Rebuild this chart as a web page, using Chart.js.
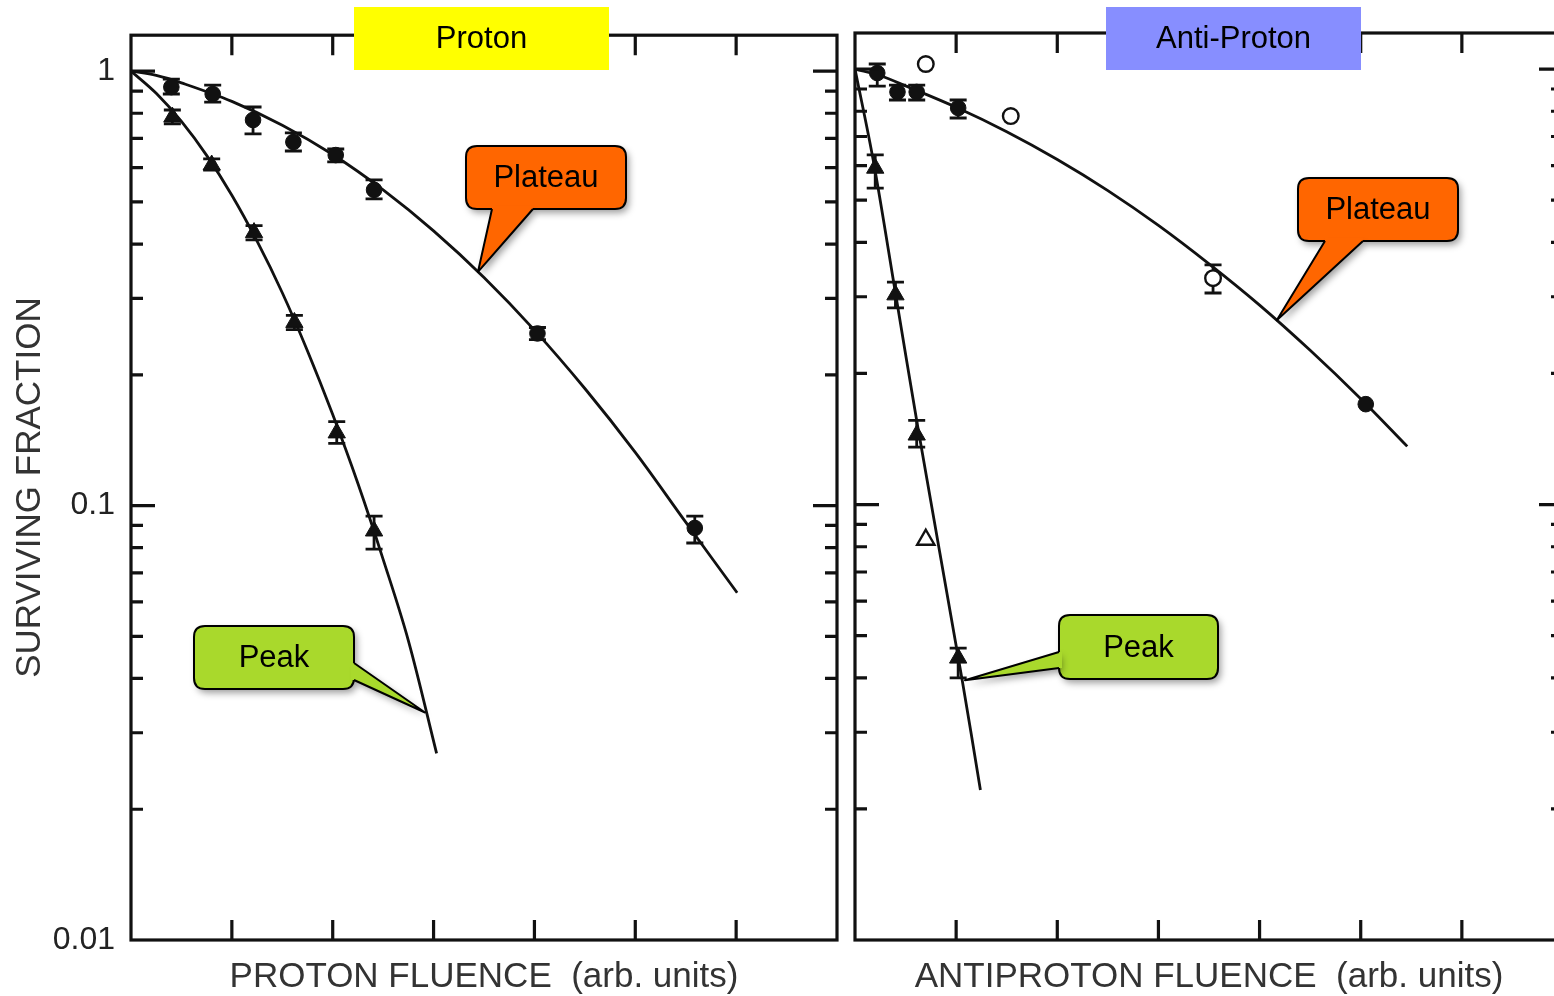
<!DOCTYPE html>
<html><head><meta charset="utf-8">
<script src="https://cdn.jsdelivr.net/npm/chart.js@4/dist/chart.umd.min.js"></script>
<style>
html{margin:0;padding:0;overflow:hidden;background:#fff;}
body{margin:0;padding:0;background:#fff;width:1600px;height:996px;position:relative;overflow:hidden;}
#w1{position:absolute;left:0;top:0;width:846px;height:996px;}
#w2{position:absolute;left:846px;top:0;width:720px;height:996px;}
</style></head><body>
<div id="w1"><canvas id="c1"></canvas></div>
<div id="w2"><canvas id="c2"></canvas></div>
<script>
// ---------- tick values ----------
const yTickLabels = [1, 0.1, 0.01];
const yMinorTicks = [0.02,0.03,0.04,0.05,0.06,0.07,0.08,0.09,0.2,0.3,0.4,0.5,0.6,0.7,0.8,0.9];
const xTicks = [1,2,3,4,5,6];

// ---------- Proton panel ----------
const protonPlateauX  = [0.40,0.81,1.21,1.61,2.03,2.41,4.03,5.59];
const protonPlateauY  = [0.919,0.886,0.772,0.687,0.641,0.533,0.249,0.0888];
const protonPlateauLo = [0.886,0.849,0.717,0.655,0.618,0.508,0.241,0.082];
const protonPlateauHi = [0.959,0.929,0.827,0.721,0.662,0.562,0.257,0.0946];

const protonPeakX  = [0.41,0.80,1.22,1.62,2.04,2.41];
const protonPeakY  = [0.784,0.608,0.425,0.264,0.147,0.0874];
const protonPeakLo = [0.756,0.592,0.409,0.254,0.139,0.0794];
const protonPeakHi = [0.814,0.628,0.441,0.274,0.156,0.0946];

const protonPlateauFitX = [0,0.25,0.5,1,1.5,2,2.5,3,3.5,4,4.5,5,5.5,6.01];
const protonPlateauFitY = [1,0.978,0.94,0.852,0.751,0.643,0.533,0.429,0.335,0.2535,0.186,0.1326,0.0916,0.063];
const protonPeakFitX = [0,0.25,0.5,0.75,1,1.25,1.5,1.75,2,2.25,2.5,2.75,3.03];
const protonPeakFitY = [1,0.889,0.766,0.640,0.518,0.406,0.309,0.227,0.162,0.1124,0.0752,0.0489,0.0269];

// ---------- Antiproton panel ----------
const antiPlateauX  = [0.22,0.42,0.61,1.02,5.05];
const antiPlateauY  = [0.979,0.886,0.886,0.814,0.170];
const antiPlateauLo = [0.914,0.849,0.849,0.772,null];
const antiPlateauHi = [1.027,0.919,0.919,0.849,null];

const antiPlateauOpenX  = [0.70,1.54,3.54];
const antiPlateauOpenY  = [1.027,0.780,0.331];
const antiPlateauOpenLo = [null,null,0.306];
const antiPlateauOpenHi = [null,null,0.355];

const antiPeakX  = [0.20,0.40,0.61,1.02];
const antiPeakY  = [0.592,0.303,0.1444,0.0444];
const antiPeakLo = [0.533,0.283,0.1355,0.040];
const antiPeakHi = [0.635,0.324,0.156,0.0468];

const antiPeakOpenX = [0.70];
const antiPeakOpenY = [0.083];

const antiPlateauFitX = [0,0.25,0.5,1,1.5,2,2.5,3,3.5,4,4.5,5,5.46];
const antiPlateauFitY = [1,0.965,0.915,0.817,0.718,0.620,0.526,0.4375,0.357,0.287,0.226,0.175,0.136];
const antiPeakFitX = [0,0.18,0.40,0.62,1.06,1.24];
const antiPeakFitY = [1,0.618,0.306,0.151,0.0395,0.0221];

// ---------- helpers ----------
const FONT = "'Liberation Sans', Arial, Helvetica, sans-serif";
const INK = '#111';
const pts = (xs, ys) => xs.map((x,i)=>({x, y: ys[i]}));

function fitDs(xs, ys){
  return {data: pts(xs,ys), showLine:true, borderColor:INK, borderWidth:2.8,
    pointRadius:0, fill:false, tension:0.35, order:2};
}
function markDs(xs, ys, style, open, lo, hi){
  return {data: pts(xs,ys), showLine:false, pointStyle:style,
    pointRadius: style==='triangle' ? 10 : 7.8,
    backgroundColor: open ? '#fff' : INK, borderColor: INK, borderWidth: open ? 2.4 : 1,
    errLo: lo, errHi: hi, order:1};
}

function roundRect(ctx,x,y,w,h,r){
  ctx.moveTo(x+r,y); ctx.lineTo(x+w-r,y); ctx.quadraticCurveTo(x+w,y,x+w,y+r);
  ctx.lineTo(x+w,y+h-r); ctx.quadraticCurveTo(x+w,y+h,x+w-r,y+h);
  ctx.lineTo(x+r,y+h); ctx.quadraticCurveTo(x,y+h,x,y+h-r);
  ctx.lineTo(x,y+r); ctx.quadraticCurveTo(x,y,x+r,y); ctx.closePath();
}

function drawCallout(ctx, c, tip, offX){
  const x=c.box[0]-offX, y=c.box[1], w=c.box[2], h=c.box[3], r=11;
  let b1,b2,inv;
  if(c.side==='bottom'){ b1=[c.base[0]-offX,y+h]; b2=[c.base[1]-offX,y+h]; inv=[0,-3]; }
  else if(c.side==='right'){ b1=[x+w,c.base[0]]; b2=[x+w,c.base[1]]; inv=[-3,0]; }
  else { b1=[x,c.base[0]]; b2=[x,c.base[1]]; inv=[3,0]; }
  ctx.save();
  ctx.shadowColor='rgba(0,0,0,0.38)'; ctx.shadowBlur=7; ctx.shadowOffsetX=3; ctx.shadowOffsetY=4;
  ctx.fillStyle=c.color;
  ctx.beginPath(); roundRect(ctx,x,y,w,h,r); ctx.fill();
  ctx.beginPath(); ctx.moveTo(b1[0],b1[1]); ctx.lineTo(tip[0],tip[1]); ctx.lineTo(b2[0],b2[1]); ctx.closePath(); ctx.fill();
  ctx.restore();
  ctx.save();
  ctx.lineWidth=2; ctx.strokeStyle='#000'; ctx.lineJoin='round';
  ctx.beginPath(); roundRect(ctx,x,y,w,h,r); ctx.stroke();
  ctx.fillStyle=c.color;
  ctx.beginPath();
  ctx.moveTo(b1[0]+inv[0],b1[1]+inv[1]); ctx.lineTo(b1[0],b1[1]); ctx.lineTo(tip[0],tip[1]);
  ctx.lineTo(b2[0],b2[1]); ctx.lineTo(b2[0]+inv[0],b2[1]+inv[1]); ctx.closePath(); ctx.fill();
  ctx.beginPath(); ctx.moveTo(b1[0],b1[1]); ctx.lineTo(tip[0],tip[1]); ctx.lineTo(b2[0],b2[1]); ctx.stroke();
  ctx.fillStyle='#000'; ctx.font='31px '+FONT; ctx.textAlign='center'; ctx.textBaseline='middle';
  ctx.fillText(c.text, x+w/2, y+h/2+1);
  ctx.restore();
}

function decoPlugin(opts){
  return {
    id:'deco',
    beforeDatasetsDraw(chart){
      const ctx=chart.ctx, ys=chart.scales.y, xs=chart.scales.x;
      ctx.save(); ctx.strokeStyle=INK; ctx.lineWidth=2.8;
      chart.data.datasets.forEach(ds=>{
        if(!ds.errLo) return;
        ds.data.forEach((p,i)=>{
          if(ds.errLo[i]==null) return;
          const px=xs.getPixelForValue(p.x), y1=ys.getPixelForValue(ds.errLo[i]), y2=ys.getPixelForValue(ds.errHi[i]);
          ctx.beginPath();
          ctx.moveTo(px,y1); ctx.lineTo(px,y2);
          ctx.moveTo(px-8.5,y1); ctx.lineTo(px+8.5,y1);
          ctx.moveTo(px-8.5,y2); ctx.lineTo(px+8.5,y2);
          ctx.stroke();
        });
      });
      ctx.restore();
    },
    afterDraw(chart){
      const ctx=chart.ctx, a=chart.chartArea, ys=chart.scales.y, xs=chart.scales.x;
      ctx.save();
      ctx.strokeStyle=INK; ctx.lineWidth=3.2; ctx.lineCap='butt';
      ctx.strokeRect(a.left,a.top,a.right-a.left,a.bottom-a.top);
      ctx.beginPath();
      xTicks.forEach(v=>{
        const px=xs.getPixelForValue(v);
        ctx.moveTo(px,a.top); ctx.lineTo(px,a.top+20);
        ctx.moveTo(px,a.bottom); ctx.lineTo(px,a.bottom-20);
      });
      const yt=(v,len)=>{
        const py=ys.getPixelForValue(v);
        if(py<=a.top+2||py>=a.bottom-2) return;
        ctx.moveTo(a.left,py); ctx.lineTo(a.left+len,py);
        ctx.moveTo(a.right,py); ctx.lineTo(a.right-len,py);
      };
      yTickLabels.forEach(v=>yt(v,24));
      yMinorTicks.forEach(v=>yt(v,12));
      ctx.stroke();
      ctx.restore();
      opts.callouts.forEach(c=>{
        const tip=[xs.getPixelForValue(c.tip[0]), ys.getPixelForValue(c.tip[1])];
        drawCallout(ctx,c,tip,opts.offX);
      });
      const hb=opts.header;
      ctx.save();
      ctx.fillStyle=hb.color; ctx.fillRect(hb.box[0]-opts.offX,hb.box[1],hb.box[2],hb.box[3]);
      ctx.fillStyle='#000'; ctx.font='31px '+FONT; ctx.textAlign='center'; ctx.textBaseline='middle';
      ctx.fillText(hb.text, hb.box[0]-opts.offX+hb.box[2]/2, hb.box[1]+hb.box[3]/2+1);
      ctx.restore();
    }
  };
}

function yLabel(v){
  const m = yTickLabels.find(t=>Math.abs(v-t)/t<1e-6);
  return m!==undefined ? String(m) : null;
}

function makeOptions(showY, xTitle, padding){
  return {
    responsive:true, maintainAspectRatio:false, devicePixelRatio:1, animation:false, events:[],
    layout:{padding, autoPadding:false},
    plugins:{legend:{display:false}, tooltip:{enabled:false}},
    scales:{
      x:{type:'linear', min:0, max:7, grid:{display:false, drawTicks:false}, border:{display:false},
        ticks:{display:false},
        title:{display:true, text:xTitle, color:'#333', font:{family:FONT,size:35,lineHeight:1}, padding:{top:0,bottom:1.5}},
        afterFit(s){ s.height=56; }},
      y:{type:'logarithmic', min:0.01, max:1.21, display:showY,
        grid:{display:false, drawTicks:false, tickLength:0}, border:{display:false},
        ticks:{callback:yLabel, autoSkip:false, padding:16, color:'#222', font:{family:FONT,size:32}},
        title:{display:true, text:'SURVIVING FRACTION', color:'#333', font:{family:FONT,size:35,lineHeight:1}, padding:{top:12.5,bottom:0}},
        afterFit(s){ s.width = showY ? 131 : 0; }}
    }
  };
}

// ---------- Proton chart ----------
new Chart(document.getElementById('c1'), {
  type:'scatter',
  data:{datasets:[
    fitDs(protonPlateauFitX, protonPlateauFitY),
    fitDs(protonPeakFitX, protonPeakFitY),
    markDs(protonPlateauX, protonPlateauY, 'circle', false, protonPlateauLo, protonPlateauHi),
    markDs(protonPeakX, protonPeakY, 'triangle', false, protonPeakLo, protonPeakHi)
  ]},
  options: makeOptions(true, 'PROTON FLUENCE  (arb. units)', {top:33,right:9,bottom:0,left:0}),
  plugins:[decoPlugin({
    offX:0,
    header:{text:'Proton', color:'#FFFF00', box:[354,7,255,63]},
    callouts:[
      {text:'Plateau', color:'#FF6600', box:[466,146,160,63], side:'bottom', base:[492,533], tip:[3.44,0.345]},
      {text:'Peak', color:'#A9D92C', box:[194,626,160,63], side:'right', base:[663,680], tip:[2.915,0.0334]}
    ]
  })]
});

// ---------- Antiproton chart ----------
new Chart(document.getElementById('c2'), {
  type:'scatter',
  data:{datasets:[
    fitDs(antiPlateauFitX, antiPlateauFitY),
    fitDs(antiPeakFitX, antiPeakFitY),
    markDs(antiPlateauX, antiPlateauY, 'circle', false, antiPlateauLo, antiPlateauHi),
    markDs(antiPlateauOpenX, antiPlateauOpenY, 'circle', true, antiPlateauOpenLo, antiPlateauOpenHi),
    markDs(antiPeakX, antiPeakY, 'triangle', false, antiPeakLo, antiPeakHi),
    markDs(antiPeakOpenX, antiPeakOpenY, 'triangle', true, null, null)
  ]},
  options: makeOptions(false, 'ANTIPROTON FLUENCE  (arb. units)', {top:33,right:3,bottom:0,left:9}),
  plugins:[decoPlugin({
    offX:846,
    header:{text:'Anti-Proton', color:'#878EFF', box:[1106,7,255,63]},
    callouts:[
      {text:'Plateau', color:'#FF6600', box:[1298,178,160,63], side:'bottom', base:[1325,1363], tip:[4.17,0.265]},
      {text:'Peak', color:'#A9D92C', box:[1059,615,159,64], side:'left', base:[652,668], tip:[1.087,0.0395]}
    ]
  })]
});
</script>
</body></html>
